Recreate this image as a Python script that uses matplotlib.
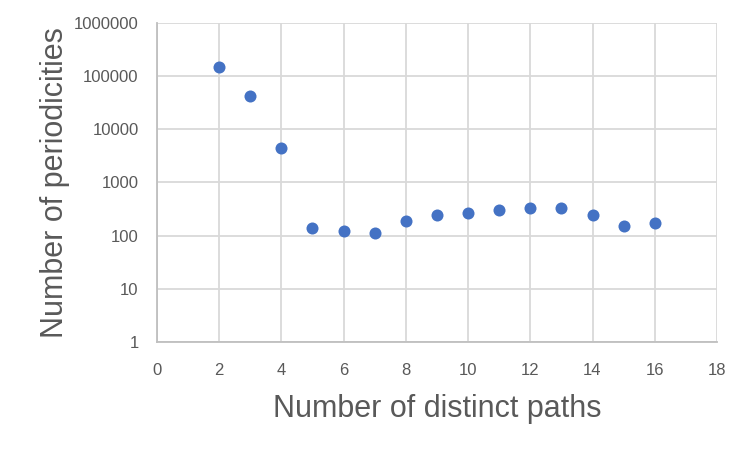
import matplotlib.pyplot as plt

# Data
paths = [2, 3, 4, 5, 6, 7, 8, 9, 10, 11, 12, 13, 14, 15, 16]
periodicities = [146000, 41400, 4370, 140, 123, 113, 190, 246, 269, 305, 333, 333, 246, 153, 174]

x_ticks = [0, 2, 4, 6, 8, 10, 12, 14, 16, 18]
y_ticks = [1, 10, 100, 1000, 10000, 100000, 1000000]

text_color = '#595959'
grid_color = '#d9d9d9'

plt.rcParams['font.family'] = ['Liberation Sans', 'DejaVu Sans']

fig = plt.figure(figsize=(7.5, 4.5), dpi=100)
ax = fig.add_axes([0.209, 0.24, 0.747, 0.709])

# Scatter the points
ax.scatter(paths, periodicities, s=75, color='#4472C4', zorder=3, linewidths=0)

# Axes setup
ax.set_yscale('log')
ax.set_xlim(0, 18)
ax.set_ylim(1, 1000000)
ax.set_xticks(x_ticks)
ax.set_xticklabels([str(v) for v in x_ticks])
ax.set_yticks(y_ticks)
ax.set_yticklabels([str(v) for v in y_ticks])
ax.minorticks_off()

ax.grid(True, color=grid_color, linewidth=1.3, zorder=0)
ax.set_axisbelow(True)
for side in ['top', 'right']:
    ax.spines[side].set_visible(False)
for side in ['left', 'bottom']:
    ax.spines[side].set_color('#bfbfbf')
    ax.spines[side].set_linewidth(1.3)
ax.tick_params(length=0, labelsize=12, colors=text_color)
ax.tick_params(axis='y', pad=13)
ax.tick_params(axis='x', pad=15)

# Labels
ax.set_xlabel('Number of distinct paths', fontsize=22, color=text_color, labelpad=12)
ax.set_ylabel('Number of periodicities', fontsize=22, color=text_color, labelpad=3)

fig.savefig('out.png', dpi=100)
